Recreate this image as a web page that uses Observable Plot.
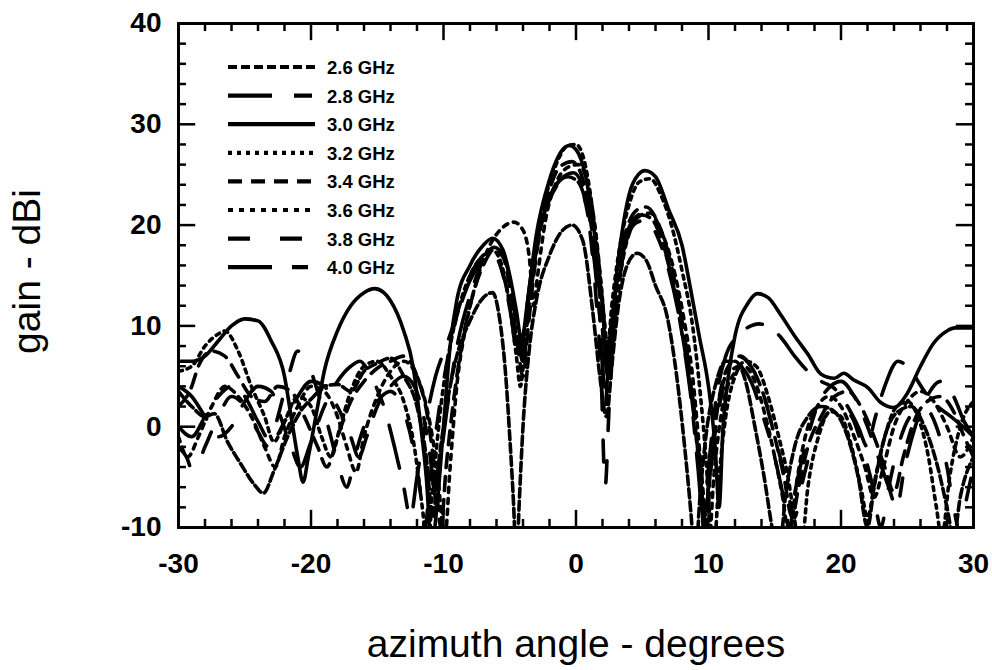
<!DOCTYPE html>
<html><head><meta charset="utf-8">
<script src="https://cdn.jsdelivr.net/npm/d3@7"></script>
<script src="https://cdn.jsdelivr.net/npm/@observablehq/plot@0.6"></script>
<style>
body{margin:0;background:#fff;}
#wrap{position:relative;width:992px;height:670px;font-family:"Liberation Sans",Arial,sans-serif;}
#wrap svg{position:absolute;left:0;top:0;}
.title{position:absolute;font-size:39px;color:#000;white-space:nowrap;text-align:center;line-height:1;}
</style></head><body><div id="wrap"></div>
<script>
// Tick values
const xMajor = [-30,-20,-10,0,10,20,30];
const xMinor = [-28,-26,-24,-22,-18,-16,-14,-12,-8,-6,-4,-2,2,4,6,8,12,14,16,18,22,24,26,28];
const yMajor = [-10,0,10,20,30,40];
const yMinor = [-8,-6,-4,-2,2,4,6,8,12,14,16,18,22,24,26,28,32,34,36,38];

// Series: [azimuth deg, gain dBi]
const f26 = [[-30,3.5],[-29,2],[-28,1],[-27.3,1.3],[-26.3,-1.5],[-25.3,-3.7],[-24.3,-5.7],[-23.6,-6.6],[-22.8,-4.4],[-21.8,-1.1],[-20.8,1.5],[-19.8,3],[-19,4],[-18,4.2],[-17,3.5],[-16,5.5],[-15,6.3],[-14,6.8],[-13,5],[-12,2],[-11.3,-3],[-10.8,-9],[-10.4,-4],[-10,0],[-9.5,4],[-9,7],[-8,10.5],[-7,12.8],[-6.3,13.3],[-5.8,11],[-5.3,5],[-5,-1],[-4.7,-8],[-4.5,-14],[-4.3,-8],[-4,0],[-3.5,8],[-3,12.5],[-2,17],[-1,19.5],[-0.3,20],[0.5,18.5],[1.3,11],[1.8,5],[2.3,1],[2.7,6],[3.2,12],[3.8,15.8],[4.6,17.2],[5.3,16.5],[6,14],[6.9,10.8],[7.6,5],[8.2,-2],[8.7,-9],[9,-14],[9.3,-8],[9.8,-1],[10.5,4],[11.3,6.5],[12,6.5],[12.8,4.5],[13.5,0],[14.2,-5],[14.8,-10],[15.3,-13],[15.8,-7],[16.5,-2],[17.5,1],[18.5,2],[19.5,1.5],[20.5,-1],[21.3,-5],[22,-10],[22.5,-6],[23.3,-1],[24.3,1.5],[25.3,2],[26.3,0],[27.3,-4],[28,-8],[28.5,-11],[29,-7],[30,-3]];
const f28 = [[-30,4],[-29,3],[-28,1],[-27,-1],[-26,0],[-25,2.5],[-24,4],[-23,3.5],[-22.3,1],[-21.5,-2],[-20.8,-4],[-20,-1.5],[-19,2],[-18,4.5],[-17,6],[-16.3,6.5],[-15.5,5],[-14.5,2],[-13.7,-2],[-13,-6],[-12.5,-9],[-12,-5],[-11.4,0],[-10.6,5],[-9.8,8],[-9,11],[-8,14.5],[-7,16.5],[-6.2,17],[-5.5,15],[-4.9,11],[-4.4,7],[-4,9],[-3.4,15],[-2.6,20.5],[-1.6,23.8],[-0.6,24.8],[0.2,24.2],[0.9,21],[1.5,15],[1.9,9],[2.2,2],[2.5,8],[3,13.5],[3.7,18],[4.5,20.2],[5.3,20.5],[6.1,19],[6.9,16],[7.7,11.5],[8.4,6],[9,0],[9.4,-5],[9.8,-10],[10.2,-4],[10.8,2],[11.5,5],[12.3,6],[13.2,4.5],[14,1.5],[14.8,-2],[15.5,-6],[16.1,-10],[16.6,-6],[17.3,-2],[18.2,2],[19.2,4],[20,4.5],[21,3],[22,0],[22.8,-3],[23.6,-6],[24.2,-8],[24.8,-4],[25.6,0],[26.5,3],[27.5,4.5],[28.5,3],[29.3,0.5],[30,-1]];
const f30 = [[-30,6.5],[-29,6.5],[-28,7],[-27,8.5],[-26,10],[-25,10.7],[-24,10.5],[-23,8.5],[-22,5],[-21.5,1],[-21,-3],[-20.6,-5.5],[-20.2,-3],[-19.5,2],[-19,5.5],[-18,9.5],[-17,12],[-16,13.3],[-15.2,13.7],[-14.5,13.3],[-14,12.5],[-13,9.5],[-12.3,6],[-11.8,1],[-11.3,-5],[-10.9,-12],[-10.5,-8],[-10,0],[-9.5,8],[-9,12.5],[-8,16],[-7,18],[-6.3,18.7],[-5.5,17.5],[-5,15],[-4.5,11.5],[-4.1,8.5],[-3.7,12],[-3,19],[-2,24.5],[-1,27.5],[-0.5,27.9],[0,27.5],[0.7,25],[1.5,18],[2,12],[2.4,5],[2.7,8],[3,14],[3.5,19.5],[4,23],[4.7,25],[5.2,25.4],[6,24.8],[7,21.5],[8,18],[8.6,14],[9.3,9],[10,4],[10.5,-2],[10.8,-8],[11.1,0],[11.5,5],[12,9],[13,12.3],[13.7,13.2],[14.5,12.8],[15.5,11],[16.5,9],[17.5,7.2],[18.5,5.2],[19.5,4.8],[20.2,5.3],[21,4.6],[22,3.9],[23,2.4],[24,1.9],[25,3.3],[26,6],[27,8.3],[28,9.5],[28.6,9.8],[30,9.8]];
const f32 = [[-30,5.5],[-29,6],[-28,8],[-27,9.2],[-26.5,9.5],[-25.5,7.5],[-24.5,4],[-23.5,1],[-22.8,-1.5],[-22,0.5],[-21,3],[-20,2],[-19.2,-1],[-18.5,-3],[-17.8,0],[-17,3.5],[-16,6],[-15,6.5],[-14,5],[-13,2.5],[-12.2,-2],[-11.6,-8],[-11.2,-12],[-10.8,-6],[-10.2,2],[-9.5,8],[-8.8,12],[-8,15],[-7,17],[-6.3,17.5],[-5.6,16],[-5,12],[-4.5,7],[-4.2,4],[-3.8,9],[-3.2,16],[-2.5,21.5],[-1.5,26],[-0.6,27.9],[0,28],[0.6,26.5],[1.4,20],[1.9,14],[2.4,8],[2.7,12],[3.2,17],[4,22],[4.8,24.3],[5.6,24.6],[6.4,23],[7.2,20],[8,15.5],[8.8,10],[9.4,3],[9.8,-3],[10.1,-9],[10.4,-12],[10.8,-5],[11.3,1],[12,5],[12.8,6.5],[13.6,6],[14.5,3],[15.3,-1],[16,-5],[16.6,-10],[17,-12],[17.5,-6],[18.3,-1],[19.2,1.5],[20,1],[20.8,-2],[21.5,-6],[22,-9],[22.6,-5],[23.3,-1],[24.2,2],[25,2.5],[25.8,1],[26.6,-3],[27.2,-8],[27.6,-11],[28.2,-5],[29,0],[30,2.5]];
const f34 = [[-30,2],[-29,4],[-28.5,6],[-27.5,7.5],[-26.5,7],[-25.5,5],[-24.5,3],[-23.5,2.5],[-22.5,4],[-21.5,3.5],[-20.5,1],[-19.5,-2],[-18.8,-4],[-18,-1],[-17,2.5],[-16,4.5],[-15,5.8],[-14,6.5],[-13,7],[-12,5],[-11.2,1],[-10.6,-5],[-10.2,-10],[-9.8,-4],[-9.2,3],[-8.5,9],[-7.8,13],[-7,16],[-6.2,17.5],[-5.5,16.8],[-4.9,13],[-4.4,8],[-4,5],[-3.6,10],[-3,17],[-2.2,22.5],[-1.2,25.8],[-0.3,26.3],[0.4,25],[1.2,19.5],[1.8,13],[2.3,6],[2.6,9],[3.1,15],[3.8,19.5],[4.6,21.5],[5.3,21.8],[6.1,20.5],[7,17],[7.8,12],[8.5,6],[9,0],[9.4,-6],[9.7,-11],[10.1,-5],[10.7,2],[11.5,6],[12.4,7],[13.2,6],[14.2,3],[15,-1],[15.7,-5],[16.3,-9],[16.8,-6],[17.5,-2],[18.5,1],[19.5,3],[20.5,3.5],[21.5,2],[22.5,-1],[23.3,-4],[24,-6.5],[24.7,-3],[25.5,0.5],[26.5,2.5],[27.5,3],[28.5,1.5],[29.3,-1],[30,-3]];
const f36 = [[-30,-1],[-29.3,-3],[-28.5,-1],[-27.5,2],[-26.5,4],[-25.5,3],[-24.5,1],[-23.5,-2],[-22.7,-4],[-22,-1],[-21,2],[-20,4],[-19,3.5],[-18,1],[-17.3,-2],[-16.6,-4.5],[-16,-1],[-15,3],[-14,5.5],[-13,6.5],[-12,5],[-11.2,1.5],[-10.5,-4],[-9.9,-11],[-9.5,-4],[-9,4],[-8.3,10],[-7.5,14.5],[-6.5,18],[-5.5,19.8],[-4.7,20.3],[-4,19.5],[-3.5,16.5],[-3.2,12],[-2.9,15],[-2.3,20.5],[-1.5,24.2],[-0.5,25.8],[0.2,26],[0.9,24],[1.6,18],[2.1,11],[2.5,6],[2.9,10],[3.4,15.5],[4.1,19.5],[4.9,21],[5.6,21.2],[6.4,19.5],[7.3,16],[8.1,11],[8.8,5],[9.3,-2],[9.7,-8],[10,-12],[10.4,-5],[11,1.5],[11.8,5],[12.7,6],[13.5,4.5],[14.3,1],[15,-3],[15.6,-7],[16.1,-11],[16.6,-6],[17.3,-1],[18.2,2],[19.1,3],[20,2],[21,-1],[21.8,-4],[22.5,-7],[23.2,-4],[24,0],[25,2.5],[26,3.5],[27,2.5],[28,0],[29,-3],[30,-1]];
const f38 = [[-30,-2],[-29.4,-3],[-28.9,-4.5],[-28,-2],[-27,1],[-26,3],[-25,2],[-24,-0.5],[-23.2,-2],[-22.5,1],[-21.7,5],[-21,7.5],[-20.3,6.5],[-19.5,3.5],[-18.7,0],[-18,-3.5],[-17.3,-6],[-16.7,-3],[-16,0],[-15,2.5],[-14,3.5],[-13,1.5],[-12.3,-2],[-11.8,-6],[-11.4,-10],[-11,-5],[-10.3,2],[-9.5,8],[-8.7,12.5],[-7.8,15.5],[-6.8,17],[-5.9,16.5],[-5.2,13.5],[-4.6,9],[-4.2,6],[-3.8,10.5],[-3.2,16],[-2.4,21],[-1.4,24],[-0.5,25],[0.3,24],[1,20],[1.5,13],[1.9,5],[2.2,-6],[2.5,2],[2.9,10],[3.5,16.5],[4.3,20],[5,21],[5.8,20.5],[6.6,18],[7.4,14],[8.2,9],[8.8,3],[9.3,-3],[9.7,-10],[10.1,-4],[10.7,2],[11.4,5.5],[12.2,7],[13.2,6],[14.2,3],[15,-1],[15.8,-5],[16.5,-9],[17,-6],[17.8,-2],[18.8,1],[19.8,2],[20.8,1],[21.6,-2],[22.4,-6],[23,-10],[23.6,-6],[24.3,-2],[25.2,1],[26.2,2],[27.2,0],[28,-4],[28.5,-8],[29,-10.5],[29.5,-7],[30,-4]];
const f40 = [[-30,0],[-29,-1],[-28,1],[-27,3],[-26,4],[-25,3],[-24,0.5],[-23,-1.5],[-22,0.5],[-21,3],[-20,4.5],[-19,4],[-18,2],[-17,-1],[-16.4,-3],[-15.8,-1],[-15,2],[-14,4],[-13,5],[-12.2,4],[-11.5,1],[-11,-3],[-10.6,-7],[-10.2,-3],[-9.6,3],[-8.9,8.5],[-8,13],[-7,16.5],[-6.2,17.8],[-5.5,17],[-4.9,14],[-4.4,9],[-4,6.5],[-3.6,11],[-3,17.5],[-2.2,22],[-1.2,24.5],[-0.2,25.2],[0.6,23.5],[1.3,18],[1.8,11],[2.2,3],[2.5,7],[2.9,13],[3.5,17.5],[4.3,20.5],[5.1,21.2],[5.9,20.3],[6.7,17.5],[7.5,13],[8.2,7.5],[8.8,1.5],[9.2,-4],[9.6,-9],[10,-4],[10.6,3],[11.3,7],[12.2,9],[13.2,10],[13.8,10.2],[14.5,10],[15.5,8.8],[16.5,7],[17.5,5.5],[18.5,4.5],[19.5,3.8],[20.5,2],[21.3,0],[22,-2],[22.5,0.5],[23.3,4],[24.3,6.5],[25.3,5.5],[26.3,3.5],[27.3,2],[28.3,1],[29.2,0],[30,-1]];

const names = ["2.6 GHz","2.8 GHz","3.0 GHz","3.2 GHz","3.4 GHz","3.6 GHz","3.8 GHz","4.0 GHz"];
const seriesData = [f26,f28,f30,f32,f34,f36,f38,f40];
const dashes = ["9,4","44,22,18,22",null,"4,5","14,9","5,6","22,30","44,20,16,20"];

const W = 992, H = 670;
const mL = 178, mR = 19, mT = 23, mB = 143;

const lineMarks = seriesData.map((d, i) => Plot.line(d, {
  x: p => p[0], y: p => p[1], stroke: "#000", strokeWidth: 3.6,
  strokeDasharray: dashes[i] ?? undefined, curve: "monotone-x", clip: true
}));

const tickMarks = [
  Plot.ruleX(xMajor, {y1: -10, y2: -8.3, stroke: "#000", strokeWidth: 2.5}),
  Plot.ruleX(xMajor, {y1: 40, y2: 38.3, stroke: "#000", strokeWidth: 2.5}),
  Plot.ruleX(xMinor, {y1: -10, y2: -9.2, stroke: "#000", strokeWidth: 2.5}),
  Plot.ruleX(xMinor, {y1: 40, y2: 39.2, stroke: "#000", strokeWidth: 2.5}),
  Plot.ruleY(yMajor, {x1: -30, x2: -28.7, stroke: "#000", strokeWidth: 2.5}),
  Plot.ruleY(yMajor, {x1: 30, x2: 28.7, stroke: "#000", strokeWidth: 2.5}),
  Plot.ruleY(yMinor, {x1: -30, x2: -29.4, stroke: "#000", strokeWidth: 2.5}),
  Plot.ruleY(yMinor, {x1: 30, x2: 29.4, stroke: "#000", strokeWidth: 2.5})
];

const chart = Plot.plot({
  width: W, height: H,
  marginLeft: mL, marginRight: mR, marginTop: mT, marginBottom: mB,
  style: {fontFamily: "'Liberation Sans', Arial, sans-serif", background: "#fff", color: "#000"},
  x: {domain: [-30, 30]},
  y: {domain: [-10, 40]},
  marks: [
    ...lineMarks,
    ...tickMarks,
    Plot.frame({stroke: "#000", strokeWidth: 3}),
    Plot.axisX(xMajor, {anchor: "bottom", tickSize: 0, tickPadding: 26, fontSize: 28, fontWeight: "bold", label: null, tickFormat: d => String(d)}),
    Plot.axisY(yMajor, {anchor: "left", tickSize: 0, tickPadding: 17, fontSize: 28, fontWeight: "bold", label: null, tickFormat: d => String(d)})
  ]
});

const wrap = document.getElementById("wrap");
wrap.appendChild(chart);

// Legend overlay
const lg = d3.select(wrap).append("svg")
  .attr("width", W).attr("height", H)
  .style("pointer-events", "none");
names.forEach((n, i) => {
  const y = 67 + i * 28.6;
  lg.append("line").attr("x1", 228).attr("x2", 315).attr("y1", y).attr("y2", y)
    .attr("stroke", "#000").attr("stroke-width", 4.2)
    .attr("stroke-dasharray", dashes[i] ?? null);
  lg.append("text").attr("x", 327).attr("y", y + 7)
    .attr("font-family", "'Liberation Sans', Arial, sans-serif")
    .attr("font-weight", "bold").attr("font-size", 18.5).text(n);
});

// Axis titles
const xt = document.createElement("div");
xt.className = "title";
xt.textContent = "azimuth angle - degrees";
xt.style.left = "326px"; xt.style.width = "500px"; xt.style.top = "624px";
wrap.appendChild(xt);
const yt = document.createElement("div");
yt.className = "title";
yt.textContent = "gain - dBi";
yt.style.left = "-74px"; yt.style.width = "200px"; yt.style.top = "252px";
yt.style.transform = "rotate(-90deg)";
wrap.appendChild(yt);
</script></body></html>
